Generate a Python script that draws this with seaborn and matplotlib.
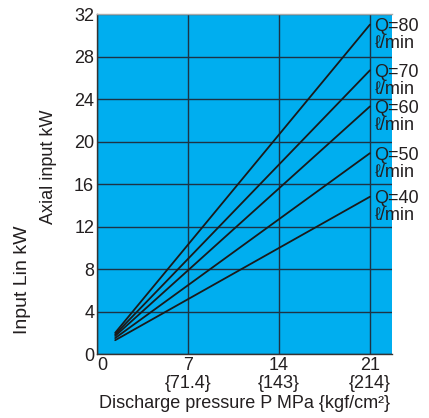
import seaborn as sns
import matplotlib.pyplot as plt
import pandas as pd
import numpy as np

# flow rates (l/min) and the two end points of each straight line
flows = [40, 50, 60, 70, 80]
pressure = [1.4, 21.0]
start_kw = [1.3, 1.5, 1.7, 1.85, 2.0]
end_kw = [14.8, 18.9, 23.3, 26.7, 31.0]

x_ticks = [0, 7, 14, 21]
x_tick_labels = ["0", "7\n{71.4}", "14\n{143}", "21\n{214}"]
y_ticks = [0, 4, 8, 12, 16, 20, 24, 28, 32]

rows = []
for q, s, e in zip(flows, start_kw, end_kw):
    rows.append({"P": pressure[0], "kW": s, "Q": q})
    rows.append({"P": pressure[1], "kW": e, "Q": q})
df = pd.DataFrame(rows)

sns.set_style("white")
plt.rcParams["font.family"] = ["Liberation Sans", "DejaVu Sans"]
txt = "#231f20"
fs = 13

fig = plt.figure(figsize=(4.29, 4.18), dpi=100)
ax = fig.add_axes([0.2261, 0.1531, 0.6877, 0.8134])
ax.set_facecolor("#00AEEF")

sns.lineplot(data=df, x="P", y="kW", hue="Q", palette=["#1a1a1a"] * len(flows),
             legend=False, linewidth=1.3, ax=ax)

ax.set_xlim(0, 22.7)
ax.set_ylim(0, 32)
ax.set_xticks(x_ticks)
ax.set_xticklabels(x_tick_labels, fontsize=fs, color=txt, linespacing=1.1)
ax.xaxis.get_majorticklabels()[0].set_horizontalalignment("left")
ax.set_yticks(y_ticks)
ax.set_yticklabels([str(v) for v in y_ticks], fontsize=fs, color=txt)
ax.tick_params(length=0, pad=2)

ax.grid(True, color="#1d3345", linewidth=1.0)
ax.set_axisbelow(True)
for side in ["left", "bottom"]:
    ax.spines[side].set_color("#333333")
    ax.spines[side].set_linewidth(1.0)
ax.spines["top"].set_color("#aaaaaa")
ax.spines["top"].set_linewidth(1.0)
ax.spines["right"].set_visible(False)

for q, e in zip(flows, end_kw):
    ax.text(21.35, e + 0.6, f"Q={q}\nℓ/min", fontsize=fs, color=txt,
            ha="left", va="top", linespacing=1.0, clip_on=False)

ax.set_xlabel("Discharge pressure P MPa {kgf/cm²}", fontsize=fs, color=txt, labelpad=2)
ax.set_ylabel("")
fig.text(0.112, 0.60, "Axial input kW", rotation=90, fontsize=fs, color=txt,
         ha="center", va="center")
fig.text(0.052, 0.33, "Input Lin kW", rotation=90, fontsize=fs + 1, color=txt,
         ha="center", va="center")

plt.savefig("out.png", dpi=100)
